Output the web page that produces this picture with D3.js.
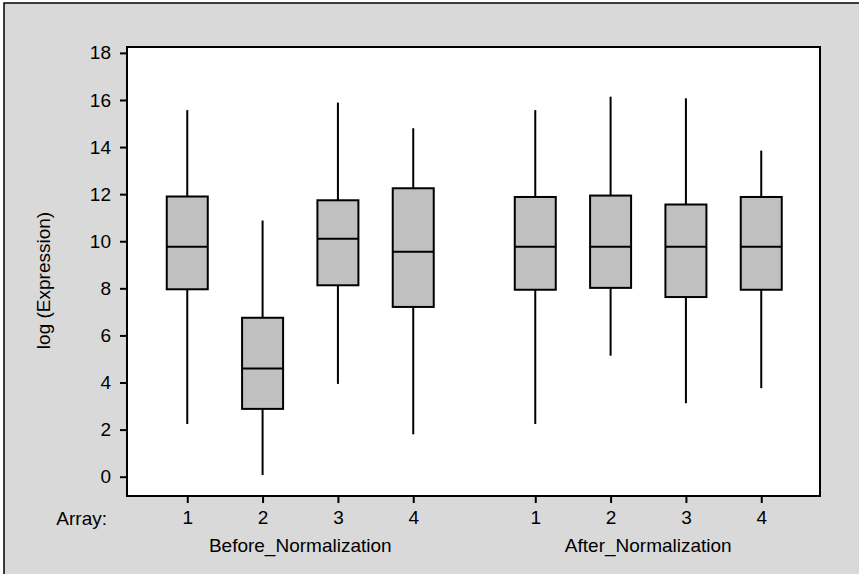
<!DOCTYPE html>
<html>
<head>
<meta charset="utf-8">
<script src="https://cdn.jsdelivr.net/npm/d3@7"></script>
<style>
  body { margin: 0; background: #fff; }
  svg { display: block; font-family: "Liberation Sans", Arial, sans-serif; }
</style>
</head>
<body>
<div id="chart"></div>
<script>
const FRAME_WIDTH = 859;
const FRAME_HEIGHT = 574;
const PLOT = {left: 127, right: 820, top: 47, bottom: 496};
const FONT = "19px";

// box summaries
const GROUPS = ["Before_Normalization", "After_Normalization"];
const ARRAYS = ["1", "2", "3", "4", "1", "2", "3", "4"];
const GROUP_OF = [0, 0, 0, 0, 1, 1, 1, 1];
const SLOT = [1, 2, 3, 4, 5.62, 6.62, 7.62, 8.62];
const W_LOW = [2.24, 0.07, 3.94, 1.80, 2.24, 5.14, 3.12, 3.76];
const Q1 = [7.96, 2.88, 8.13, 7.21, 7.94, 8.02, 7.63, 7.94];
const MEDIAN = [9.77, 4.59, 10.11, 9.55, 9.77, 9.77, 9.77, 9.77];
const Q3 = [11.90, 6.75, 11.74, 12.25, 11.88, 11.94, 11.56, 11.88];
const W_HIGH = [15.57, 10.88, 15.89, 14.80, 15.57, 16.14, 16.07, 13.85];
const Y_TICKS = [0, 2, 4, 6, 8, 10, 12, 14, 16, 18];

const boxes = SLOT.map((s, i) => ({
    slot: s, label: ARRAYS[i], group: GROUP_OF[i],
    lo: W_LOW[i], q1: Q1[i], med: MEDIAN[i], q3: Q3[i], hi: W_HIGH[i]
}));

const X_SCALE = d3.scaleLinear().domain([0.2, 9.4]).range([PLOT.left, PLOT.right]);
const Y_SCALE = d3.scaleLinear().domain([-0.82, 18.25]).range([PLOT.bottom, PLOT.top]);
const BOX_W = 41;

const svg = d3.select("#chart").append("svg")
    .attr("width", FRAME_WIDTH)
    .attr("height", FRAME_HEIGHT);

// grey background with border
svg.append("rect")
    .attr("x", 4).attr("y", 3)
    .attr("width", FRAME_WIDTH + 10).attr("height", FRAME_HEIGHT + 10)
    .attr("fill", "#d9d9d9")
    .attr("stroke", "#000").attr("stroke-width", 1.5);

// plot area
svg.append("rect")
    .attr("x", PLOT.left).attr("y", PLOT.top)
    .attr("width", PLOT.right - PLOT.left).attr("height", PLOT.bottom - PLOT.top)
    .attr("fill", "#fff")
    .attr("stroke", "#000").attr("stroke-width", 2);

// y axis
const yAxis = svg.append("g")
    .attr("transform", "translate(" + PLOT.left + ",0)")
    .call(d3.axisLeft(Y_SCALE).tickValues(Y_TICKS).tickSize(7).tickPadding(9));
yAxis.select(".domain").remove();
yAxis.selectAll("line").attr("stroke-width", 2);
yAxis.selectAll("text").attr("font-size", FONT).attr("fill", "#000")
    .attr("font-family", "Liberation Sans, Arial, sans-serif");

// x axis
const xAxis = svg.append("g")
    .attr("transform", "translate(0," + PLOT.bottom + ")")
    .call(d3.axisBottom(X_SCALE).tickValues(SLOT).tickSize(7).tickPadding(8)
        .tickFormat((d, i) => ARRAYS[i]));
xAxis.select(".domain").remove();
xAxis.selectAll("line").attr("stroke-width", 2);
xAxis.selectAll("text").attr("font-size", FONT).attr("fill", "#000")
    .attr("font-family", "Liberation Sans, Arial, sans-serif");

svg.append("text")
    .attr("x", 107).attr("y", 525)
    .attr("text-anchor", "end")
    .attr("font-size", FONT)
    .text("Array:");

// group labels under the axis
GROUPS.forEach((g, gi) => {
    const slots = SLOT.filter((s, i) => GROUP_OF[i] === gi);
    svg.append("text")
        .attr("x", X_SCALE(d3.mean(slots)))
        .attr("y", 552)
        .attr("text-anchor", "middle")
        .attr("font-size", FONT)
        .text(g);
});

// y label
svg.append("text")
    .attr("transform", "translate(50," + ((PLOT.top + PLOT.bottom) / 2 + 9) + ") rotate(-90)")
    .attr("text-anchor", "middle")
    .attr("font-size", FONT)
    .text("log (Expression)");

// boxes
const bx = svg.selectAll(".box")
    .data(boxes)
    .enter()
    .append("g")
    .attr("class", "box");

bx.append("line")
    .attr("x1", d => X_SCALE(d.slot)).attr("x2", d => X_SCALE(d.slot))
    .attr("y1", d => Y_SCALE(d.hi)).attr("y2", d => Y_SCALE(d.q3))
    .attr("stroke", "#000").attr("stroke-width", 2);

bx.append("line")
    .attr("x1", d => X_SCALE(d.slot)).attr("x2", d => X_SCALE(d.slot))
    .attr("y1", d => Y_SCALE(d.q1)).attr("y2", d => Y_SCALE(d.lo))
    .attr("stroke", "#000").attr("stroke-width", 2);

bx.append("rect")
    .attr("x", d => X_SCALE(d.slot) - BOX_W / 2)
    .attr("y", d => Y_SCALE(d.q3))
    .attr("width", BOX_W)
    .attr("height", d => Y_SCALE(d.q1) - Y_SCALE(d.q3))
    .attr("fill", "#c0c0c0")
    .attr("stroke", "#000").attr("stroke-width", 2);

bx.append("line")
    .attr("x1", d => X_SCALE(d.slot) - BOX_W / 2).attr("x2", d => X_SCALE(d.slot) + BOX_W / 2)
    .attr("y1", d => Y_SCALE(d.med)).attr("y2", d => Y_SCALE(d.med))
    .attr("stroke", "#000").attr("stroke-width", 2);
</script>
</body>
</html>
